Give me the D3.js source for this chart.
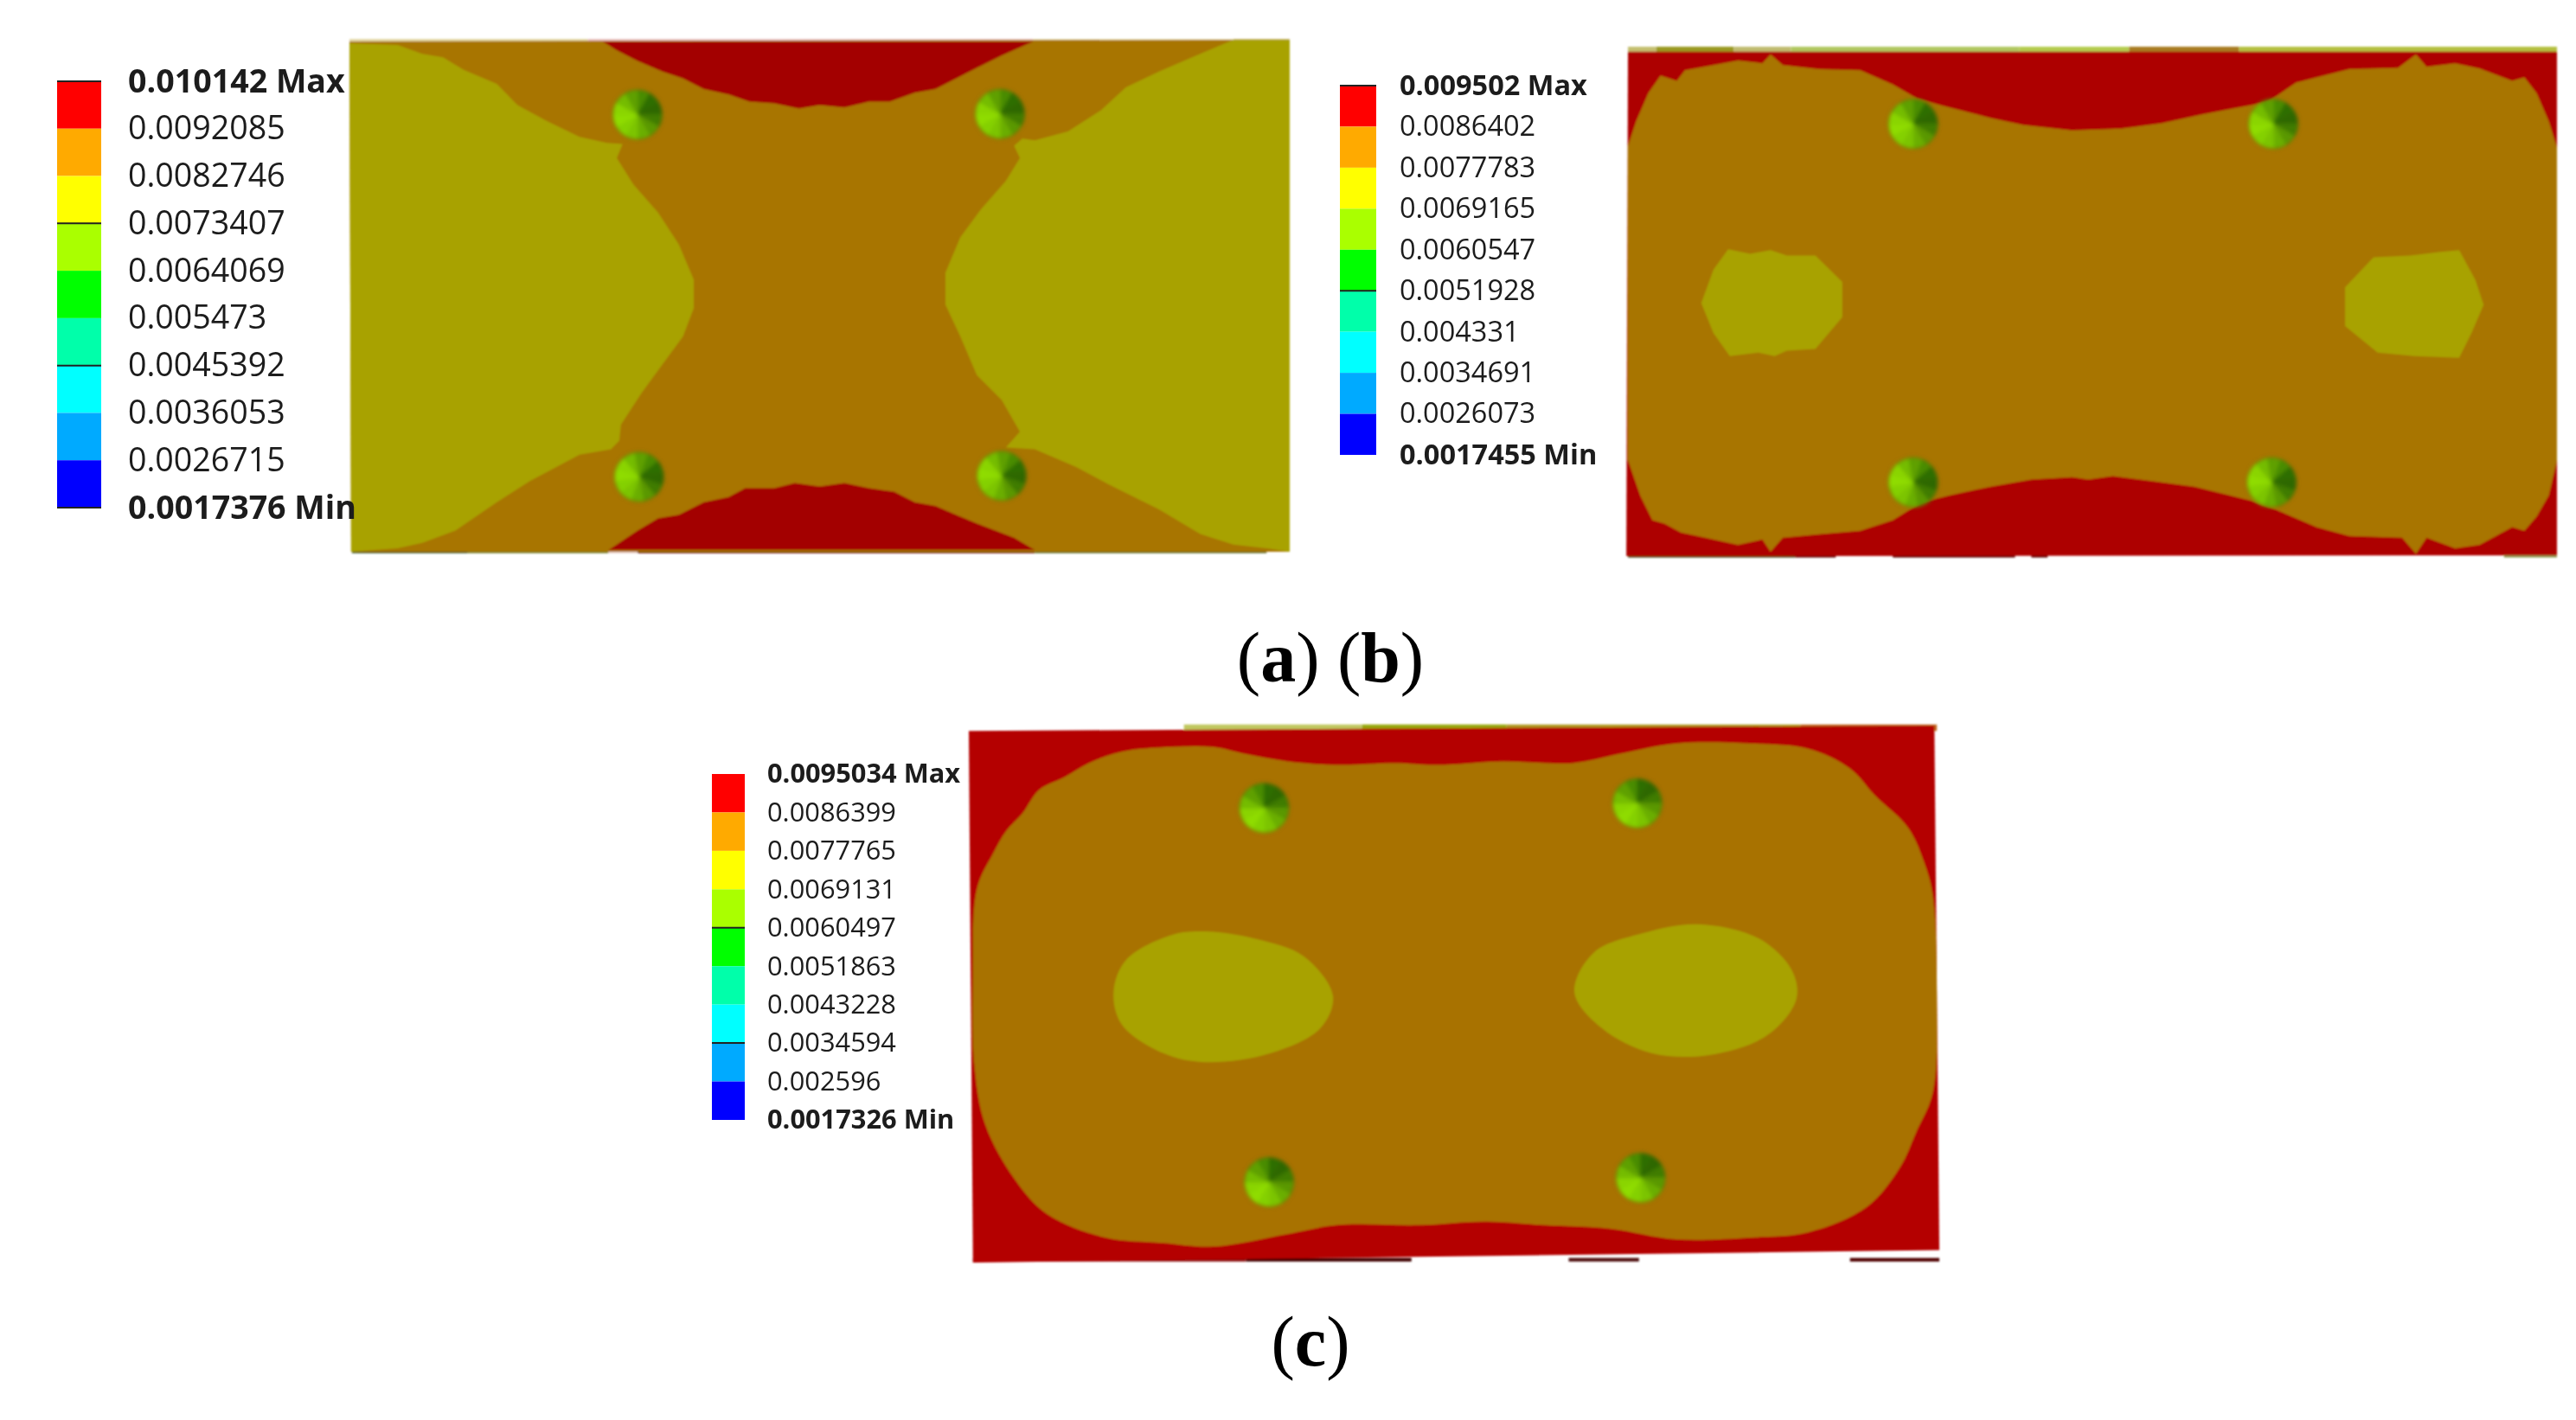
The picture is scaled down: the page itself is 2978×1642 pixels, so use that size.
<!DOCTYPE html>
<html>
<head>
<meta charset="utf-8">
<script src="https://cdn.jsdelivr.net/npm/d3@7"></script>
<style>
  html, body { margin: 0; background: #fff; }
  svg { display: block; }
</style>
</head>
<body>
<div id="chart"></div>
<script>
// legend values (max first)
const valuesA = [0.010142, 0.0092085, 0.0082746, 0.0073407, 0.0064069, 0.005473, 0.0045392, 0.0036053, 0.0026715, 0.0017376];
const valuesB = [0.009502, 0.0086402, 0.0077783, 0.0069165, 0.0060547, 0.0051928, 0.004331, 0.0034691, 0.0026073, 0.0017455];
const valuesC = [0.0095034, 0.0086399, 0.0077765, 0.0069131, 0.0060497, 0.0051863, 0.0043228, 0.0034594, 0.002596, 0.0017326];
const bandColors = ['#ff0000', '#ffaa00', '#ffff00', '#aaff00', '#00ff00', '#00ffaa', '#00ffff', '#00aaff', '#0000ff'];
const darkTicksA = [0.010142, 0.0073407, 0.0045392, 0.0017376];
const darkTicksB = [0.009502, 0.0051928];
const darkTicksC = [0.0060497, 0.0034594];
const captions = ['(a) (b)', '(c)'];

// contour boundaries, traced in plate units
const plateA = [[422,45],[1558,40],[1558,1490],[424,1490]];
const plateB = [[405,72],[1545,72],[1545,1500],[403,1502]];
const plateC = [[355,60],[1522,45],[1528,1510],[360,1545]];

const redTopA = [[728,45],[745,70],[770,100],[800,130],[825,150],[850,180],[880,195],[905,215],[935,220],[965,235],[990,225],[1020,232],[1050,215],[1075,215],[1105,190],[1130,180],[1155,150],[1180,120],[1210,85],[1248,45]];
const redBottomA = [[735,1485],[770,1430],[795,1395],[820,1385],[850,1350],[880,1335],[900,1310],[935,1310],[960,1295],[990,1305],[1020,1295],[1050,1310],[1080,1320],[1105,1350],[1130,1360],[1155,1385],[1180,1410],[1225,1450],[1250,1485]];
const olivLeftA = [[422,50],[480,55],[510,80],[535,90],[560,125],[600,165],[625,225],[660,270],[700,315],[733,332],[752,335],[745,375],[765,450],[795,530],[820,620],[838,720],[838,800],[825,880],[800,960],[775,1040],[750,1130],[748,1175],[738,1200],[700,1215],[640,1290],[600,1350],[550,1430],[510,1465],[480,1480],[424,1490]];
const olivRightA = [[1558,40],[1490,40],[1440,90],[1400,130],[1360,175],[1330,240],[1290,300],[1250,325],[1235,320],[1225,340],[1232,375],[1215,440],[1185,520],[1160,600],[1142,700],[1142,790],[1160,880],[1180,990],[1210,1060],[1232,1150],[1215,1195],[1250,1200],[1300,1250],[1340,1300],[1400,1370],[1450,1440],[1490,1470],[1530,1480],[1558,1490]];

const brownB = [[405,340],[415,270],[430,190],[445,140],[465,155],[475,125],[510,110],[540,97],[570,105],[580,80],[595,110],[640,122],[690,125],[730,165],[760,205],[790,225],[850,260],[890,280],[950,295],[1010,290],[1060,275],[1110,250],[1150,232],[1190,215],[1225,160],[1290,122],[1350,118],[1372,80],[1385,115],[1420,105],[1450,120],[1490,155],[1505,145],[1520,190],[1535,270],[1545,345],[1545,1230],[1535,1330],[1520,1390],[1505,1430],[1490,1420],[1450,1470],[1420,1480],[1385,1450],[1372,1495],[1355,1450],[1290,1445],[1250,1420],[1200,1370],[1170,1345],[1100,1305],[1050,1290],[1000,1275],[970,1285],[950,1278],[900,1285],[850,1305],[800,1330],[765,1350],[730,1400],[690,1430],[640,1440],[595,1450],[580,1490],[570,1455],[540,1470],[500,1450],[470,1435],[450,1410],[435,1400],[420,1330],[405,1230]];
const islandLeftB = [[495,785],[510,690],[528,632],[555,645],[580,635],[600,650],[635,650],[668,725],[668,825],[635,915],[600,920],[585,935],[565,925],[530,935],[510,870]];
const islandRightB = [[1285,740],[1320,655],[1365,650],[1400,640],[1425,635],[1445,720],[1455,790],[1440,870],[1425,940],[1370,935],[1325,925],[1285,850]];

const brownC = [[365,500],[385,400],[400,340],[420,290],[440,225],[470,190],[500,150],[540,118],[600,105],[650,105],[690,125],[740,145],[800,155],[870,150],[920,155],[1000,145],[1085,150],[1140,125],[1210,95],[1300,95],[1370,110],[1420,165],[1450,240],[1490,330],[1510,430],[1520,520],[1525,800],[1520,1070],[1500,1180],[1480,1280],[1440,1390],[1370,1460],[1300,1475],[1210,1480],[1130,1450],[1050,1440],[980,1430],[900,1440],[800,1440],[740,1465],[650,1500],[590,1490],[520,1475],[450,1410],[410,1310],[375,1160],[362,1000],[360,750]];
const islandLeftC = [[530,790],[545,700],[600,630],[640,620],[700,640],[760,690],[795,800],[780,890],[720,960],[640,985],[590,960],[540,880]];
const islandRightC = [[1087,790],[1110,680],[1170,625],[1235,600],[1310,640],[1350,730],[1355,810],[1320,910],[1250,965],[1180,960],[1120,890]];

// bolt heads: [x, y, rotation of the shading]
const boltsA = [[770,252,0],[1208,250,0],[772,1278,20],[1210,1275,20]];
const boltsB = [[755,277,0],[1197,277,0],[755,1293,20],[1195,1293,20]];
const boltsC = [[712,275,-30],[1163,262,-30],[718,1320,-30],[1167,1308,-30]];
const boltShades = ['#4a8c00', '#2f6e00', '#2f6800', '#3f7c00', '#5a9800', '#6aae00', '#7cc400', '#84d000', '#8fdc00', '#8ad400', '#74bc00', '#5ea000'];

// strips along the plate edges: [from, to, colour]
const topEdgeA = [[422,710,'#e2d6a0'],[710,1248,'#e8bcbc'],[1248,1490,'#e6dcb0'],[1490,1558,'#c8b060']];
const bottomEdgeA = [[425,565,'#35501a'],[565,735,'#6e7a20'],[735,770,'#e6c8c0'],[770,1250,'#6a0000'],[1250,1530,'#5a6a20']];
const topEdgeB = [[405,440,'#c4c070'],[440,535,'#9a9a20'],[535,605,'#c0bc70'],[605,885,'#b0c860'],[885,1020,'#b4cc50'],[1020,1155,'#a87c20'],[1155,1545,'#b4c040']];
const bottomEdgeB = [[405,610,'#303c10'],[610,660,'#5a0808'],[730,880,'#5a0000'],[900,920,'#5a0000'],[1480,1545,'#8c9a50']];
const topEdgeC = [[615,830,'#c0c860'],[830,1005,'#98a810'],[1005,1360,'#b09a20'],[1360,1525,'#c06a20']];
const bottomEdgeC = [[360,400,'#500000'],[400,690,'#8a1010'],[690,890,'#400000'],[1080,1165,'#501010'],[1420,1528,'#500000']];

const W = 2978, H = 1642;
const RED = '#ad0000', BROWN = '#a87400', OLIVE = '#a8a200';

const svg = d3.select('#chart').append('svg').attr('width', W).attr('height', H);

const defs = svg.append('defs');
defs.append('filter').attr('id', 'soft').append('feGaussianBlur').attr('stdDeviation', 0.9);
defs.append('filter').attr('id', 'softBolt').append('feGaussianBlur').attr('stdDeviation', 2);
defs.append('filter').attr('id', 'softText').append('feGaussianBlur').attr('stdDeviation', 0.55);

function drawPlate(cfg) {
  const x = d3.scaleLinear().domain(cfg.xDomain).range(cfg.xRange);
  const y = d3.scaleLinear().domain(cfg.yDomain).range(cfg.yRange);
  const sharp = d3.line().x(d => x(d[0])).y(d => y(d[1]));
  const round = d3.line().x(d => x(d[0])).y(d => y(d[1])).curve(d3.curveCatmullRomClosed.alpha(0.5));
  const g = svg.append('g').attr('filter', 'url(#soft)');

  const strips = (rows, y0, y1) => g.append('g').selectAll('rect')
    .data(rows)
    .join('rect')
    .attr('x', d => x(d[0]))
    .attr('width', d => x(d[1]) - x(d[0]))
    .attr('y', y(y0))
    .attr('height', y(y1) - y(y0))
    .attr('fill', d => d[2]);

  strips(cfg.topEdge, cfg.topY[0], cfg.topY[1]);
  strips(cfg.bottomEdge, cfg.bottomY[0], cfg.bottomY[1]);

  g.selectAll('path.region')
    .data(cfg.regions)
    .join('path')
    .attr('class', 'region')
    .attr('d', d => d.round ? round(d.pts) : sharp(d.pts) + 'Z')
    .attr('fill', d => d.fill);

  // bolt heads, a fan of shaded wedges
  const pie = d3.pie().value(1).sort(null);
  const arc = d3.arc().innerRadius(0).outerRadius(28.5);
  const bolt = svg.append('g').attr('filter', 'url(#softBolt)').selectAll('g')
    .data(cfg.bolts)
    .join('g')
    .attr('transform', d => `translate(${x(d[0])},${y(d[1])}) rotate(${d[2]})`);
  bolt.selectAll('path')
    .data(pie(boltShades))
    .join('path')
    .attr('d', arc)
    .attr('fill', d => d.data)
    .attr('stroke', d => d.data);
  bolt.append('circle')
    .attr('r', 28.5)
    .attr('fill', 'none')
    .attr('stroke', '#6a6a10')
    .attr('stroke-opacity', 0.6)
    .attr('stroke-width', 1.5);
}

function drawLegend(cfg) {
  const vals = cfg.values;
  const y = d3.scaleLinear().domain([vals[vals.length - 1], vals[0]]).range(cfg.yRange);
  const g = svg.append('g').attr('filter', 'url(#softText)');

  g.selectAll('rect')
    .data(bandColors)
    .join('rect')
    .attr('x', cfg.x)
    .attr('width', cfg.barW)
    .attr('y', (d, i) => y(vals[i]))
    .attr('height', (d, i) => y(vals[i + 1]) - y(vals[i]))
    .attr('fill', d => d);

  g.selectAll('line')
    .data(cfg.darkTicks)
    .join('line')
    .attr('x1', cfg.x).attr('x2', cfg.x + cfg.barW)
    .attr('y1', d => y(d)).attr('y2', d => y(d))
    .attr('stroke', '#222').attr('stroke-width', 2);

  const axis = d3.axisRight(y)
    .tickValues(vals)
    .tickSize(0)
    .tickPadding(0)
    .tickFormat((d, i) => d + (i === 0 ? ' Max' : i === vals.length - 1 ? ' Min' : ''));

  const ax = g.append('g')
    .attr('transform', `translate(${cfg.textX},0)`)
    .call(axis);
  ax.select('.domain').remove();
  ax.selectAll('text')
    .attr('font-family', '"Open Sans", sans-serif')
    .attr('font-size', cfg.fontSize)
    .attr('fill', '#1a1a1a')
    .attr('font-weight', (d, i) => (i === 0 || i === vals.length - 1) ? 700 : 400);
}

drawPlate({
  xDomain: [422, 1558], xRange: [404, 1491], yDomain: [45, 1490], yRange: [48, 638],
  topEdge: topEdgeA, bottomEdge: bottomEdgeA, topY: [38, 50], bottomY: [1484, 1494],
  regions: [
    { pts: plateA, fill: BROWN },
    { pts: olivLeftA, fill: OLIVE },
    { pts: olivRightA, fill: OLIVE },
    { pts: redTopA, fill: '#a30000' },
    { pts: redBottomA, fill: '#a30000' }
  ],
  bolts: boltsA
});

drawPlate({
  xDomain: [405, 1545], xRange: [1882, 2956], yDomain: [58, 1502], yRange: [54, 643],
  topEdge: topEdgeB, bottomEdge: bottomEdgeB, topY: [58, 74], bottomY: [1494, 1506],
  regions: [
    { pts: plateB, fill: RED },
    { pts: brownB, fill: BROWN },
    { pts: islandLeftB, fill: OLIVE },
    { pts: islandRightB, fill: OLIVE }
  ],
  bolts: boltsB
});

drawPlate({
  xDomain: [355, 1528], xRange: [1120, 2242], yDomain: [45, 1545], yRange: [839, 1460],
  topEdge: topEdgeC, bottomEdge: bottomEdgeC, topY: [42, 60], bottomY: [1532, 1542],
  regions: [
    { pts: plateC, fill: '#b40606' },
    { pts: brownC, fill: '#a87200', round: true },
    { pts: islandLeftC, fill: OLIVE, round: true },
    { pts: islandRightC, fill: OLIVE, round: true }
  ],
  bolts: boltsC
});

drawLegend({ values: valuesA, darkTicks: darkTicksA, x: 66, barW: 51, textX: 148, fontSize: 37.6, yRange: [587, 94] });
drawLegend({ values: valuesB, darkTicks: darkTicksB, x: 1549, barW: 42, textX: 1618, fontSize: 32.5, yRange: [526, 99] });
drawLegend({ values: valuesC, darkTicks: darkTicksC, x: 823, barW: 38, textX: 887, fontSize: 30.8, yRange: [1295, 895] });

// captions: roman brackets, bold letter
const captionPos = [[1538, 788], [1515, 1579]];
captions.forEach((c, i) => {
  const t = svg.append('text')
    .attr('x', captionPos[i][0]).attr('y', captionPos[i][1])
    .attr('text-anchor', 'middle')
    .attr('font-family', '"Liberation Serif", serif')
    .attr('font-size', 82)
    .attr('fill', '#000');
  c.split(/([a-c])/).forEach(part => {
    t.append('tspan').attr('font-weight', /^[a-c]$/.test(part) ? 700 : 400).text(part);
  });
});
</script>
</body>
</html>
